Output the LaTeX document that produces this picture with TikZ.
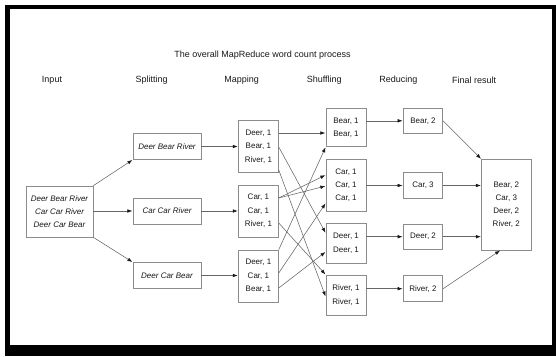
\documentclass[tikz,border=0pt]{standalone}
\usepackage{fontspec}
\setmainfont{Liberation Sans}
\usetikzlibrary{arrows.meta,calc}
\begin{document}
\begin{tikzpicture}[x=1pt,y=-1pt,
  box/.style={draw=black!45,line width=0.7pt,fill=white,inner sep=0pt,align=center,
    text=black!90,font=\fontsize{8}{13.3}\selectfont},
  itbox/.style={box,font=\fontsize{8}{13.3}\selectfont\itshape},
  head/.style={text=black!90,font=\fontsize{9}{11}\selectfont,inner sep=0pt},
  conn/.style={draw=black!60,line width=0.55pt,-{Latex[length=5pt,width=3.6pt,black!90]},shorten >=0.3pt}]
\useasboundingbox (0,0) rectangle (556,356);
\fill[white] (0,0) rectangle (556,356);
\fill[black] (5,5) rectangle (556,356);
\fill[white] (10,9) rectangle (552,345);

% title and headers
\node[head] (title) at (262.5,55) {The overall MapReduce word count process};
\node[head] (hin) at (52,80) {Input};
\node[head] (hsp) at (151.7,80) {Splitting};
\node[head] (hma) at (241.7,80) {Mapping};
\node[head] (hsh) at (324.2,80) {Shuffling};
\node[head] (hre) at (398.3,80) {Reducing};
\node[head] (hfi) at (474.2,80) {Final result};

% input
\node[itbox,minimum width=67pt,minimum height=51pt] (in) at (59.5,211.5) {Deer Bear River\\Car Car River\\Deer Car Bear};

% splitting
\node[itbox,minimum width=68pt,minimum height=26pt] (s1) at (167,146.5) {Deer Bear River};
\node[itbox,minimum width=68pt,minimum height=26pt] (s2) at (167,211) {Car Car River};
\node[itbox,minimum width=68pt,minimum height=26pt] (s3) at (167,275.5) {Deer Car Bear};

% mapping
\node[box,minimum width=40pt,minimum height=52pt] (m1) at (258.4,146.5) {Deer, 1\\Bear, 1\\River, 1};
\node[box,minimum width=40pt,minimum height=52pt] (m2) at (258.4,211) {Car, 1\\Car, 1\\River, 1};
\node[box,minimum width=40pt,minimum height=52pt] (m3) at (258.4,276) {Deer, 1\\Car, 1\\Bear, 1};

% shuffling
\node[box,minimum width=40pt,minimum height=38.5pt] (f1) at (346,127.5) {Bear, 1\\Bear, 1};
\node[box,minimum width=40pt,minimum height=52pt] (f2) at (346,185.2) {Car, 1\\Car, 1\\Car, 1};
\node[box,minimum width=40pt,minimum height=40pt] (f3) at (346,243.3) {Deer, 1\\Deer, 1};
\node[box,minimum width=40pt,minimum height=40pt] (f4) at (346,295) {River, 1\\River, 1};

% reducing
\node[box,minimum width=39.5pt,minimum height=25pt] (r1) at (423,120.8) {Bear, 2};
\node[box,minimum width=39.5pt,minimum height=25.5pt] (r2) at (423,185.5) {Car, 3};
\node[box,minimum width=39.5pt,minimum height=25.5pt] (r3) at (423,236.7) {Deer, 2};
\node[box,minimum width=39.5pt,minimum height=26pt] (r4) at (423,288.7) {River, 2};

% final
\node[box,minimum width=49.5pt,minimum height=90.7pt] (fin) at (506.3,204.7) {Bear, 2\\Car, 3\\Deer, 2\\River, 2};

% input -> splitting
\draw[conn] (in.north east) -- (s1.south west);
\draw[conn] (s2.west -| in.east) -- (s2.west);
\draw[conn] (in.south east) -- (s3.north west);

% splitting -> mapping
\draw[conn] (s1.east) -- (s1.east -| m1.west);
\draw[conn] (s2.east) -- (s2.east -| m2.west);
\draw[conn] (s3.east) -- (s3.east -| m3.west);

% mapping -> shuffling
\coordinate (m1a) at ($(m1.east)+(0,-13.5)$);
\coordinate (m1b) at ($(m1.east)+(0,0.5)$);
\coordinate (m1c) at ($(m1.east)+(0,23.5)$);
\coordinate (m2a) at ($(m2.east)+(0,-13)$);
\coordinate (m2b) at ($(m2.east)+(0,12)$);
\coordinate (m3b) at ($(m3.east)+(0,-3)$);
\coordinate (m3c) at ($(m3.east)+(0,12)$);
\draw[conn] (m1a) -- (m1a -| f1.west);
\draw[conn] (m1b) -- ($(f3.west)+(0,-10.3)$);
\draw[conn] (m1c) -- ($(f4.west)+(0,1.7)$);
\draw[conn] (m2a) -- ($(f2.west)+(0,-10.2)$);
\draw[conn] (m2a) -- ($(f2.west)+(0,0.8)$);
\draw[conn] (m2b) -- (f4.north west);
\draw[conn] (m3.north east) -- (f1.south west);
\draw[conn] (m3b) -- ($(f2.west)+(0,18)$);
\draw[conn] (m3c) -- ($(f3.west)+(0,8.5)$);

% shuffling -> reducing
\draw[conn] (r1.west -| f1.east) -- (r1.west);
\draw[conn] (r2.west -| f2.east) -- (r2.west);
\draw[conn] (r3.west -| f3.east) -- (r3.west);
\draw[conn] (r4.west -| f4.east) -- (r4.west);

% reducing -> final
\draw[conn] (r1.east) -- (fin.north west);
\draw[conn] (r2.east) -- (r2.east -| fin.west);
\draw[conn] (r3.east) -- (r3.east -| fin.west);
\draw[conn] (r4.east) -- ($(fin.south)+(-6,0)$);
\end{tikzpicture}
\end{document}
